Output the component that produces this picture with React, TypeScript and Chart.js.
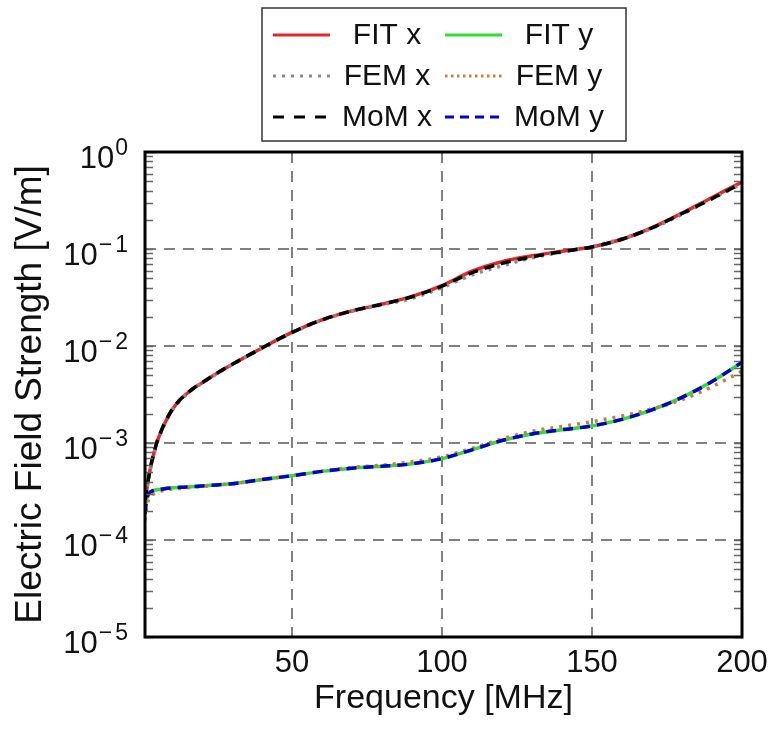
import { useEffect, useRef } from 'react';
import { Chart, registerables } from 'chart.js';

Chart.register(...registerables);

// Frequency in MHz
const FREQ = [1, 1.5, 2, 3, 4, 5, 6, 7.5, 10, 12.5, 15, 17.5, 20, 25, 30, 40, 50, 60, 70, 80, 90, 100, 110, 120, 130, 140, 150, 160, 170, 180, 190, 200];

// Electric field strength in V/m
const FIT_X = [2.4e-4, 3.16e-4, 4.0e-4, 5.9e-4, 7.9e-4, 1.02e-3, 1.23e-3, 1.58e-3, 2.19e-3, 2.75e-3, 3.24e-3, 3.72e-3, 4.17e-3, 5.25e-3, 6.46e-3, 9.55e-3, 1.38e-2, 1.86e-2, 2.3e-2, 2.7e-2, 3.25e-2, 4.2e-2, 5.9e-2, 7.4e-2, 8.5e-2, 9.5e-2, 1.05e-1, 1.26e-1, 1.66e-1, 2.34e-1, 3.4e-1, 4.9e-1];
const FEM_X = [2.3e-4, 3.1e-4, 3.9e-4, 5.8e-4, 7.8e-4, 1.0e-3, 1.21e-3, 1.55e-3, 2.15e-3, 2.7e-3, 3.2e-3, 3.68e-3, 4.12e-3, 5.2e-3, 6.4e-3, 9.45e-3, 1.37e-2, 1.84e-2, 2.28e-2, 2.66e-2, 3.1e-2, 4.0e-2, 5.4e-2, 6.7e-2, 8.1e-2, 9.3e-2, 1.06e-1, 1.28e-1, 1.63e-1, 2.28e-1, 3.3e-1, 4.7e-1];
const MOM_X = [2.6e-4, 3.2e-4, 4.05e-4, 5.95e-4, 8.0e-4, 1.03e-3, 1.24e-3, 1.59e-3, 2.2e-3, 2.76e-3, 3.25e-3, 3.73e-3, 4.18e-3, 5.25e-3, 6.46e-3, 9.55e-3, 1.38e-2, 1.86e-2, 2.3e-2, 2.7e-2, 3.22e-2, 4.15e-2, 5.7e-2, 7.1e-2, 8.3e-2, 9.4e-2, 1.05e-1, 1.26e-1, 1.65e-1, 2.32e-1, 3.3e-1, 4.8e-1];

const FIT_Y = [2.0e-4, 2.6e-4, 2.9e-4, 3.15e-4, 3.25e-4, 3.3e-4, 3.32e-4, 3.38e-4, 3.45e-4, 3.49e-4, 3.52e-4, 3.56e-4, 3.6e-4, 3.7e-4, 3.8e-4, 4.2e-4, 4.6e-4, 5.1e-4, 5.5e-4, 5.75e-4, 6.1e-4, 6.9e-4, 8.5e-4, 1.06e-3, 1.24e-3, 1.37e-3, 1.5e-3, 1.75e-3, 2.2e-3, 2.95e-3, 4.3e-3, 6.8e-3];
const FEM_Y = [1.6e-4, 2.1e-4, 2.5e-4, 2.85e-4, 3.0e-4, 3.1e-4, 3.17e-4, 3.25e-4, 3.35e-4, 3.4e-4, 3.45e-4, 3.5e-4, 3.55e-4, 3.68e-4, 3.8e-4, 4.2e-4, 4.6e-4, 5.1e-4, 5.6e-4, 5.9e-4, 6.4e-4, 7.2e-4, 8.8e-4, 1.1e-3, 1.32e-3, 1.48e-3, 1.66e-3, 1.9e-3, 2.25e-3, 2.8e-3, 3.8e-3, 5.5e-3];
const MOM_Y = [1.85e-4, 2.5e-4, 2.9e-4, 3.15e-4, 3.25e-4, 3.3e-4, 3.32e-4, 3.38e-4, 3.45e-4, 3.49e-4, 3.52e-4, 3.56e-4, 3.6e-4, 3.7e-4, 3.8e-4, 4.2e-4, 4.6e-4, 5.1e-4, 5.5e-4, 5.75e-4, 6.1e-4, 6.9e-4, 8.5e-4, 1.06e-3, 1.24e-3, 1.37e-3, 1.5e-3, 1.75e-3, 2.2e-3, 2.95e-3, 4.3e-3, 6.8e-3];

const X_TICKS = [50, 100, 150, 200];
const Y_DECADES = [-5, -4, -3, -2, -1, 0];
const X_LABEL = 'Frequency [MHz]';
const Y_LABEL = 'Electric Field Strength [V/m]';

const FONT = "'Liberation Sans', Arial, sans-serif";
const TEXT = '#111111';
const GRID = '#808080';

const STYLES = [
  { label: 'FIT x', data: FIT_X, color: '#e02828', dash: [] as number[], width: 3.5, order: 3, legendDash: [] as number[] },
  { label: 'FIT y', data: FIT_Y, color: '#33dd33', dash: [], width: 3.5, order: 3, legendDash: [] },
  { label: 'FEM x', data: FEM_X, color: '#8a8a8a', dash: [3, 6], width: 3.5, order: 2, legendDash: [3, 6] },
  { label: 'FEM y', data: FEM_Y, color: '#c08040', dash: [3, 6], width: 3.5, order: 2, legendDash: [2.5, 3.5] },
  { label: 'MoM x', data: MOM_X, color: '#000000', dash: [10, 7], width: 3.5, order: 1, legendDash: [11, 10] },
  { label: 'MoM y', data: MOM_Y, color: '#0000cc', dash: [10, 7], width: 3.5, order: 1, legendDash: [9, 6] },
];

const isDecade = (v: number) => {
  const l = Math.log10(v);
  return Math.abs(l - Math.round(l)) < 1e-9;
};

export default function App() {
  const ref = useRef<HTMLCanvasElement>(null);

  useEffect(() => {
    const canvas = ref.current;
    if (!canvas) return;

    const overlay = {
      id: 'overlay',
      afterDraw(chart: any) {
        const ctx = chart.ctx as CanvasRenderingContext2D;
        const { left, right, top, bottom } = chart.chartArea;
        const ys = chart.scales.y;
        ctx.save();

        // minor / major tick marks inside the frame
        ctx.strokeStyle = '#666666';
        ctx.lineWidth = 1.5;
        ctx.setLineDash([]);
        for (const t of ys.ticks) {
          const py = Math.round(ys.getPixelForValue(t.value)) + 0.5;
          ctx.beginPath();
          ctx.moveTo(left, py);
          ctx.lineTo(left + 8, py);
          ctx.moveTo(right - 8, py);
          ctx.lineTo(right, py);
          ctx.stroke();
        }

        // frame
        ctx.strokeStyle = '#000000';
        ctx.lineWidth = 3;
        ctx.strokeRect(left, top, right - left, bottom - top);

        // y tick labels 10^k
        ctx.fillStyle = TEXT;
        ctx.textBaseline = 'alphabetic';
        ctx.textAlign = 'right';
        for (const d of Y_DECADES) {
          const py = ys.getPixelForValue(Math.pow(10, d));
          const xr = left - 17;
          const digit = String(Math.abs(d));
          ctx.font = `23px ${FONT}`;
          const dw = ctx.measureText(digit).width;
          ctx.fillText(digit, xr, py + 3);
          let ew = dw;
          if (d !== 0) {
            const mw = ctx.measureText('\u2212').width;
            ctx.fillText('\u2212', xr - dw - 3, py + 3);
            ew = dw + 3 + mw;
          }
          ctx.font = `31px ${FONT}`;
          ctx.fillText('10', xr - ew - 1, py + 15.5);
        }

        // legend
        const bx = 262, by = 8, bw = 364, bh = 133;
        ctx.fillStyle = '#ffffff';
        ctx.fillRect(bx, by, bw, bh);
        ctx.strokeStyle = '#333333';
        ctx.lineWidth = 1.5;
        ctx.strokeRect(bx, by, bw, bh);
        const rows = [35, 76, 117];
        const cols = [
          { l0: 273, l1: 330, tc: 387 },
          { l0: 445, l1: 502, tc: 559 },
        ];
        STYLES.forEach((s, i) => {
          const r = rows[Math.floor(i / 2)];
          const c = cols[i % 2];
          ctx.strokeStyle = s.color;
          ctx.lineWidth = 3;
          ctx.setLineDash(s.legendDash);
          ctx.beginPath();
          ctx.moveTo(c.l0, r);
          ctx.lineTo(c.l1, r);
          ctx.stroke();
          ctx.setLineDash([]);
          ctx.fillStyle = TEXT;
          ctx.font = `30px ${FONT}`;
          ctx.textAlign = 'center';
          ctx.textBaseline = 'middle';
          ctx.fillText(s.label, c.tc, r + 1);
        });
        ctx.restore();
      },
    };

    const chart = new Chart(canvas, {
      type: 'line',
      data: {
        datasets: STYLES.map((s) => ({
          label: s.label,
          data: FREQ.map((f, i) => ({ x: f, y: s.data[i] })),
          borderColor: s.color,
          backgroundColor: s.color,
          borderWidth: s.width,
          borderDash: s.dash,
          order: s.order,
          fill: false,
          pointRadius: 0,
          cubicInterpolationMode: 'monotone',
        })),
      },
      options: {
        animation: false,
        responsive: false,
        layout: { padding: { left: 0, right: 27, top: 152, bottom: 10 } },
        plugins: { legend: { display: false }, tooltip: { enabled: false } },
        scales: {
          x: {
            type: 'linear',
            min: 1,
            max: 200,
            afterBuildTicks: (s: any) => {
              s.ticks = X_TICKS.map((v) => ({ value: v }));
            },
            afterFit: (s: any) => {
              s.height = 85;
              s.paddingLeft = 0;
              s.paddingRight = 0;
            },
            grid: { color: GRID, lineWidth: 2, drawTicks: false },
            border: { display: false, dash: [11, 8] },
            ticks: {
              font: { size: 31, family: FONT },
              color: TEXT,
              padding: 8,
              maxRotation: 0,
              autoSkip: false,
            },
            title: {
              display: true,
              text: X_LABEL,
              font: { size: 34, family: FONT },
              color: TEXT,
              padding: { top: 0, bottom: 3 },
            },
          },
          y: {
            type: 'logarithmic',
            min: 1e-5,
            max: 1,
            afterBuildTicks: (s: any) => {
              const t: any[] = [];
              for (const d of Y_DECADES) {
                const base = Math.pow(10, d);
                if (d === 0) {
                  t.push({ value: 1 });
                } else {
                  for (let m = 1; m <= 9; m++) t.push({ value: +(m * base).toPrecision(6) });
                }
              }
              s.ticks = t;
            },
            afterFit: (s: any) => {
              s.width = 145;
              s.paddingTop = 0;
              s.paddingBottom = 0;
            },
            grid: {
              color: (c: any) => (c.tick && isDecade(c.tick.value) ? GRID : 'rgba(0,0,0,0)'),
              lineWidth: 2,
              drawTicks: false,
            },
            border: { display: false, dash: [11, 8] },
            ticks: { display: false },
            title: {
              display: true,
              text: Y_LABEL,
              font: { size: 37, family: FONT },
              color: TEXT,
              padding: { top: 9, bottom: 0 },
            },
          },
        },
      },
      plugins: [overlay],
    } as any);

    return () => chart.destroy();
  }, []);

  return (
    <div style={{ position: 'fixed', left: 0, top: 0, width: 769, height: 732, background: '#ffffff' }}>
      <canvas ref={ref} width={769} height={732} style={{ display: 'block' }} />
    </div>
  );
}
